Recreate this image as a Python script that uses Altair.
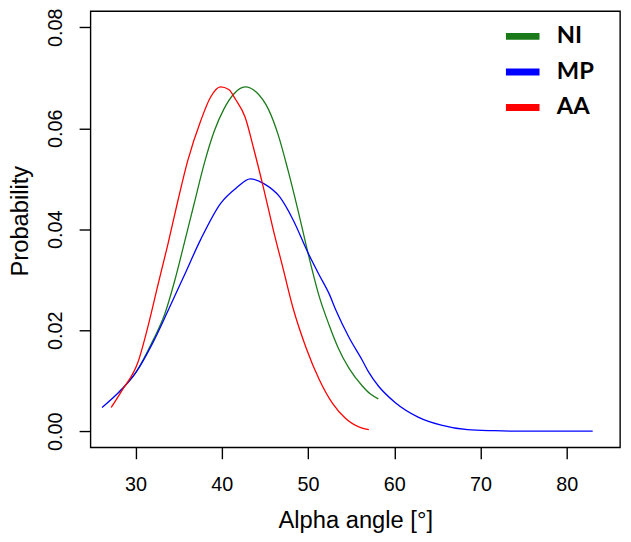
import altair as alt
import pandas as pd

series_names = ["NI", "MP", "AA"]
series_colors = ["#1a7a1a", "#0000ff", "#ff0000"]

ni_x = [28.0, 30.1, 32.03, 33.37, 34.51, 35.66, 36.80, 37.95, 39.10, 40.24, 41.39, 42.71,
        44.05, 45.40, 46.54, 47.69, 48.83, 49.98, 51.31, 52.45, 53.5, 54.74, 56.27, 57.2, 58.15]
ni_p = [0.0076, 0.0118, 0.0180, 0.0231, 0.0296, 0.0373, 0.0451, 0.0529, 0.0593, 0.0638, 0.0668, 0.0682,
        0.0671, 0.0638, 0.0587, 0.0516, 0.0438, 0.0354, 0.0266, 0.0210, 0.0165, 0.0125, 0.0090, 0.0074, 0.0064]

mp_x = [26.12, 28.40, 30.11, 32.03, 33.75, 35.66, 37.56, 39.85, 41.76, 43.29, 44.82, 46.72, 48.26,
        49.98, 51.31, 52.45, 53.22, 54.74, 56.27, 57.03, 58.18, 60.09, 62.76, 65.44, 68.49, 71.55, 75.0, 83.0]
mp_p = [0.0047, 0.0083, 0.0118, 0.0176, 0.0238, 0.0309, 0.0380, 0.0451, 0.0483, 0.0500, 0.0491, 0.0464, 0.0419,
        0.0354, 0.0309, 0.0272, 0.0240, 0.0186, 0.0141, 0.0117, 0.0089, 0.0057, 0.0028, 0.0012, 0.0003, 0.0001, 0.0, 0.0]

aa_x = [27.18, 28.40, 30.31, 31.45, 32.60, 33.75, 34.89, 36.04, 37.56, 38.71, 39.85, 40.81, 41.57,
        42.71, 43.68, 44.82, 45.97, 47.11, 48.26, 49.78, 51.31, 52.84, 54.36, 56.27, 57.05]
aa_p = [0.0047, 0.0080, 0.0138, 0.0208, 0.0290, 0.0370, 0.0455, 0.0535, 0.0615, 0.0662, 0.0682, 0.0677, 0.0658,
        0.0622, 0.0561, 0.0483, 0.0399, 0.0322, 0.0244, 0.0165, 0.0102, 0.0055, 0.0025, 0.0006, 0.0003]

x_ticks = [30, 40, 50, 60, 70, 80]
y_ticks = [0.0, 0.02, 0.04, 0.06, 0.08]

rows = []
for name, xs, ps in [("NI", ni_x, ni_p), ("MP", mp_x, mp_p), ("AA", aa_x, aa_p)]:
    for i, (x, p) in enumerate(zip(xs, ps)):
        rows.append({"series": name, "angle": x, "prob": p, "idx": i})
df = pd.DataFrame(rows)

W, H = 536, 441.5
FONT = "Liberation Sans"

x_enc = alt.X(
    "angle:Q",
    scale=alt.Scale(domain=[24.78, 86.17], nice=False, zero=False),
    axis=alt.Axis(
        values=x_ticks, title="Alpha angle [°]", grid=False, domain=False,
        tickSize=11.5, tickWidth=1.4, tickColor="black",
        labelFont=FONT, labelFontSize=20, labelColor="black",
        labelBaseline="alphabetic", labelPadding=32,
        titleFont=FONT, titleFontSize=24, titleFontWeight="normal", titleColor="black",
        titleBaseline="alphabetic", titleX=W / 2, titleY=81, titleAlign="center",
    ),
)
y_enc = alt.Y(
    "prob:Q",
    scale=alt.Scale(domain=[-0.0032, 0.0832], nice=False, zero=False),
    axis=alt.Axis(
        values=y_ticks, format=".2f", title="Probability", grid=False, domain=False,
        tickSize=11.5, tickWidth=1.4, tickColor="black",
        labelFont=FONT, labelFontSize=20, labelColor="black",
        labelAngle=270, labelAlign="center", labelBaseline="alphabetic", labelPadding=18,
        titleFont=FONT, titleFontSize=24, titleFontWeight="normal", titleColor="black",
        titleAngle=270, titleBaseline="alphabetic", titleAlign="center",
        titleX=-64, titleY=212,
    ),
)
color_enc = alt.Color(
    "series:N",
    scale=alt.Scale(domain=series_names, range=series_colors),
    legend=alt.Legend(
        title=None, orient="none", legendX=417, legendY=5,
        symbolType="stroke", symbolSize=1156, symbolStrokeWidth=7, symbolOpacity=1,
        labelFont="Lato", labelFontWeight="bold", labelFontSize=24, labelColor="black",
        labelOffset=14, rowPadding=1, padding=0, offset=0,
    ),
)

layers = []
for name in series_names:
    layers.append(
        alt.Chart(df)
        .transform_filter(alt.datum.series == name)
        .mark_line(strokeWidth=1.3, interpolate="monotone")
        .encode(x=x_enc, y=y_enc, color=color_enc, order="idx:Q")
    )

chart = (
    alt.layer(*layers)
    .properties(
        width=W, height=H,
        autosize=alt.AutoSizeParams(type="none"),
        padding={"left": 83.5, "top": 0, "right": 3, "bottom": 86},
        background="white",
    )
    .configure_view(stroke="black", strokeWidth=1.4)
)

chart.save("out.html", embed_options={"renderer": "svg", "actions": False})
